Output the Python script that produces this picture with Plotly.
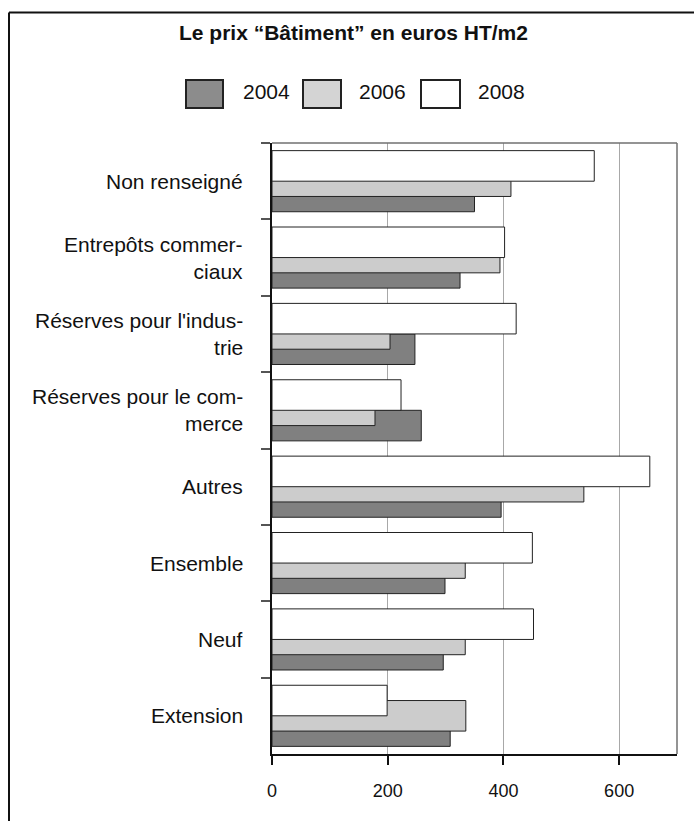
import plotly.graph_objects as go

# Categories (wrapped labels as printed), top to bottom
categories = [
    "Non renseigné",
    "Entrepôts commer-<br>ciaux",
    "Réserves pour l'indus-<br>trie",
    "Réserves pour le com-<br>merce",
    "Autres",
    "Ensemble",
    "Neuf",
    "Extension",
]
years = ["2004", "2006", "2008"]
prix_2004 = [350, 325, 247, 258, 396, 299, 296, 308]
prix_2006 = [413, 394, 204, 178, 539, 334, 334, 335]
prix_2008 = [557, 402, 422, 223, 653, 450, 452, 199]
x_ticks = [0, 200, 400, 600]

title_text = "Le prix “Bâtiment” en euros HT/m2"

FONT = "Liberation Sans, Arial, Helvetica, sans-serif"
fills = {"2004": "#808080", "2006": "#cccccc", "2008": "#ffffff"}
swatch_fills = {"2004": "#8c8c8c", "2006": "#d4d4d4", "2008": "#ffffff"}
# bar thickness and per-series offset along the category axis (overlapping bars)
BAR_W = 0.40
offsets = {"2004": 0.0, "2006": -0.20, "2008": -0.40}

# page geometry
W, H = 694, 821
M = dict(l=272, r=17, t=143, b=67)
PW = W - M["l"] - M["r"]
PH = H - M["t"] - M["b"]


def px(x):
    return (x - M["l"]) / PW


def py(y):
    return (H - M["b"] - y) / PH


fig = go.Figure()
series = {"2004": prix_2004, "2006": prix_2006, "2008": prix_2008}
for yr in years:  # 2004 drawn first so 2008 sits on top
    fig.add_trace(go.Bar(
        x=series[yr], y=categories, orientation="h", name=yr,
        width=BAR_W, offset=offsets[yr],
        marker=dict(color=fills[yr], line=dict(color="#222222", width=1)),
        showlegend=False, hoverinfo="x+name",
    ))

shapes = []
annotations = []

# outer frame of the figure: left and top edges (the others run off the page)
frame = dict(color="#111111", width=2)
shapes.append(dict(type="line", xref="paper", yref="paper",
                   x0=px(9), x1=px(9), y0=py(H + 10), y1=py(12.5), line=frame))
shapes.append(dict(type="line", xref="paper", yref="paper",
                   x0=px(9), x1=px(W + 10), y0=py(12.5), y1=py(12.5), line=frame))
# top and right edges of the plot area
shapes.append(dict(type="line", xref="paper", yref="paper", x0=0, x1=1, y0=1, y1=1,
                   line=dict(color="#707070", width=1.5)))
shapes.append(dict(type="line", xref="paper", yref="paper", x0=1, x1=1, y0=0, y1=1,
                   line=dict(color="#707070", width=1.5)))

# title
annotations.append(dict(text="<b>" + title_text + "</b>", xref="paper", yref="paper",
                        x=px(353), y=py(32), xanchor="center", yanchor="middle",
                        showarrow=False, font=dict(family=FONT, size=21, color="#111111")))

# legend: swatch + year label
swatch_x = [(186, 223), (303, 341), (421, 460)]
label_x = [241, 357, 476]
for yr, (sx0, sx1), lx in zip(years, swatch_x, label_x):
    shapes.append(dict(type="rect", xref="paper", yref="paper",
                       x0=px(sx0), x1=px(sx1), y0=py(108), y1=py(80),
                       fillcolor=swatch_fills[yr], line=dict(color="#222222", width=2)))
    annotations.append(dict(text=yr, xref="paper", yref="paper", x=px(lx), y=py(92),
                            xanchor="left", yanchor="middle", showarrow=False,
                            font=dict(family=FONT, size=21, color="#111111")))

# category labels, right-aligned beside the axis
for cat in categories:
    annotations.append(dict(text=cat, xref="paper", yref="y", x=0, y=cat,
                            xanchor="right", yanchor="middle", align="right",
                            xshift=-27, showarrow=False,
                            font=dict(family=FONT, size=21, color="#111111")))

fig.update_layout(
    width=W, height=H,
    margin=M,
    paper_bgcolor="white", plot_bgcolor="white",
    barmode="overlay",
    font=dict(family=FONT, size=18, color="#111111"),
    shapes=shapes, annotations=annotations,
    xaxis=dict(range=[0, 700], tickvals=x_ticks, showgrid=True, gridcolor="#a8a8a8",
               gridwidth=1, zeroline=False, showline=True, linecolor="#111111",
               linewidth=1.5, ticks="outside", ticklen=9, tickcolor="#111111",
               tickwidth=1.5, ticklabelstandoff=11,
               tickfont=dict(family=FONT, size=18, color="#111111"),
               fixedrange=True),
    yaxis=dict(type="category", categoryorder="array", categoryarray=categories,
               autorange="reversed", showgrid=False, zeroline=False, showline=True,
               linecolor="#111111", linewidth=1.5, ticks="outside", ticklen=9,
               tickcolor="#555555", tickwidth=1.5, tickson="boundaries",
               showticklabels=False, fixedrange=True),
)

fig.write_html("out.html")
